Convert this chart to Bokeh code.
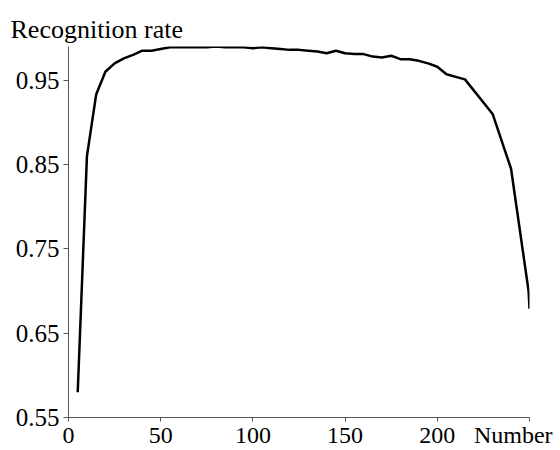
from bokeh.plotting import figure
from bokeh.models import Range1d, FixedTicker, Title
from bokeh.embed import file_html
from bokeh.resources import INLINE

# Data
number = [5, 10, 15, 20, 25, 30, 35, 40, 45, 50, 55, 60, 65, 70, 75, 80, 85, 90, 95,
          100, 105, 110, 115, 120, 125, 130, 135, 140, 145, 150, 155, 160, 165, 170,
          175, 180, 185, 190, 195, 200, 205, 210, 215, 230, 240, 249.5, 250]
rate = [0.580, 0.860, 0.933, 0.960, 0.970, 0.976, 0.980, 0.985, 0.985, 0.987, 0.989,
        0.989, 0.989, 0.989, 0.989, 0.990, 0.989, 0.989, 0.989, 0.988, 0.989, 0.988,
        0.987, 0.986, 0.986, 0.985, 0.984, 0.982, 0.985, 0.982, 0.981, 0.981, 0.978,
        0.977, 0.979, 0.975, 0.975, 0.973, 0.970, 0.966, 0.957, 0.954, 0.951, 0.910,
        0.845, 0.700, 0.679]
x_ticks = [0, 50, 100, 150, 200, 250]
x_tick_labels = ["0", "50", "100", "150", "200"]
y_ticks = [0.55, 0.65, 0.75, 0.85, 0.95]
y_title = "Recognition rate"
x_title = "Number"

FONT = "Liberation Serif"
X_LABEL_POS = 241.2   # where the "Number" caption sits, left of the last tick

p = figure(width=560, height=450, output_backend="svg", toolbar_location=None,
           x_range=Range1d(0, 250), y_range=Range1d(0.55, 0.99),
           min_border_left=68, min_border_right=31, min_border_top=46,
           min_border_bottom=33)
p.outline_line_color = None
p.grid.visible = False
p.background_fill_color = "white"
p.border_fill_color = "white"

p.line(number, rate, line_color="black", line_width=2.5)

# y axis
ya = p.yaxis[0]
ya.axis_line_color = "#555555"
ya.major_tick_line_color = "#555555"
ya.minor_tick_line_color = None
ya.major_tick_in = 0
ya.major_tick_out = 5
ya.major_label_standoff = 4
ya.ticker = FixedTicker(ticks=y_ticks)
ya.major_label_overrides = {t: f"{t:.2f}" for t in y_ticks}
ya.major_label_text_font = FONT
ya.major_label_text_font_size = "25px"
ya.major_label_text_color = "black"

# x axis: visible tick marks are drawn as "minor" ticks; labels sit on
# invisible major ticks so that the "Number" caption can be placed freely
label_ticks = x_ticks[:len(x_tick_labels)] + [X_LABEL_POS]
xa = p.xaxis[0]
xa.ticker = FixedTicker(ticks=label_ticks, minor_ticks=x_ticks)
xa.major_label_overrides = {**{t: s for t, s in zip(x_ticks, x_tick_labels)},
                            X_LABEL_POS: x_title}
xa.axis_line_color = "#555555"
xa.major_tick_line_color = None
xa.major_tick_in = 0
xa.major_tick_out = 4
xa.minor_tick_line_color = "#555555"
xa.minor_tick_in = 0
xa.minor_tick_out = 4
xa.major_label_standoff = 0
xa.major_label_text_font = FONT
xa.major_label_text_font_size = "24px"
xa.major_label_text_color = "black"

p.title = Title(text=y_title, align="left", offset=-58, text_font=FONT,
                text_font_size="26px", text_font_style="normal",
                text_color="black", standoff=6)

open("out.html", "w").write(file_html(p, INLINE))
